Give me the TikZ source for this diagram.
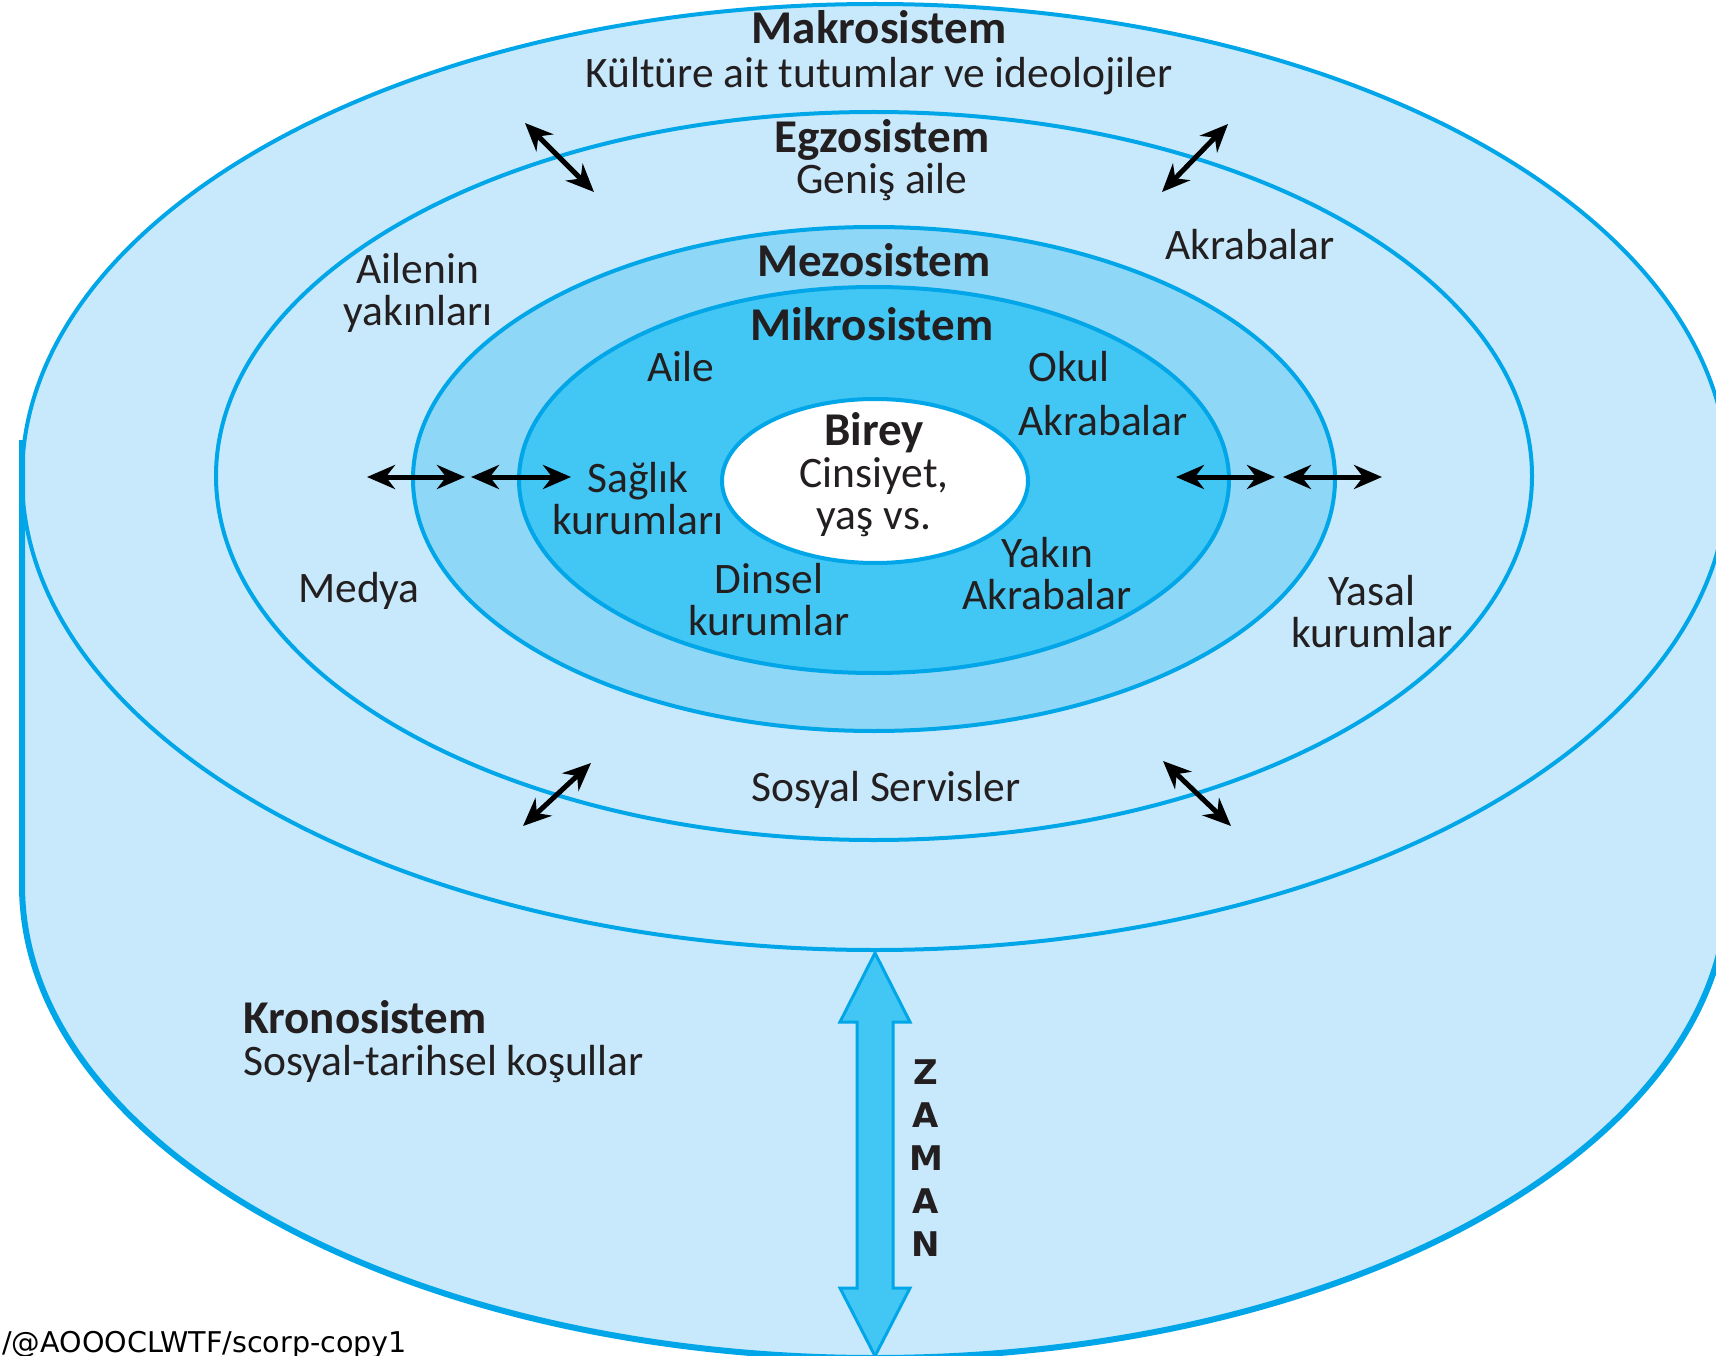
\documentclass[tikz,border=0pt]{standalone}
\usepackage{fontspec}
\setmainfont{Carlito}
\newfontfamily\wmfont{DejaVu Sans}
\usetikzlibrary{arrows.meta}
\definecolor{lightb}{RGB}{199,233,251}
\definecolor{mezob}{RGB}{143,215,246}
\definecolor{mikrob}{RGB}{66,199,244}
\definecolor{edgeb}{RGB}{0,166,232}
\definecolor{txt}{RGB}{35,31,32}
\newcommand{\ttlfont}{\bfseries\fontsize{47}{42}\selectfont}
\tikzset{
  edge/.style={draw=edgeb, line width=4pt},
  lbl/.style={text=txt, font=\fontsize{43.5}{42}\selectfont, align=center, inner sep=0pt},
  ttl/.style={text=txt, font=\ttlfont, align=center, inner sep=0pt},
  dbl/.style={{Stealth[length=28pt,width=24pt]}-{Stealth[length=28pt,width=24pt]}, line width=5pt, draw=black},
}
\begin{document}
\begin{tikzpicture}[x=1pt,y=-1pt]
\useasboundingbox (0,0) rectangle (1716,1356);
\clip (0,0) rectangle (1716,1356);
\fill[white] (0,0) rectangle (1716,1356);
% cylinder body
\fill[lightb] (875,477) ellipse[x radius=853, y radius=473];
\fill[lightb] (22,477) rectangle (1728,885);
\fill[lightb] (875,885) ellipse[x radius=853, y radius=473];
\draw[edge, line width=6pt] (22,440) -- (22,885) arc[start angle=180, end angle=0, x radius=853, y radius=473] -- (1728,477);
\draw[edge] (875,477) ellipse[x radius=853, y radius=473];
% rings
\draw[edge] (874,476) ellipse[x radius=658, y radius=364];
\filldraw[fill=mezob, edge] (874,479) ellipse[x radius=461, y radius=252];
\filldraw[fill=mikrob, edge] (874,480) ellipse[x radius=355, y radius=193];
\filldraw[fill=white, edge] (875,481) ellipse[x radius=153, y radius=82];
% ZAMAN arrow
\filldraw[fill=mikrob, draw=edgeb, line width=3pt, line join=miter]
  (875,953) -- (910,1022) -- (893,1022) -- (893,1288) -- (910,1288) -- (875,1356)
  -- (840,1288) -- (857,1288) -- (857,1022) -- (840,1022) -- cycle;
% labels
\node[lbl] (makro) at (879,53) {{\ttlfont Makrosistem}\\[2pt]Kültüre ait tutumlar ve ideolojiler};
\node[lbl] (egzo) at (882,160) {{\ttlfont Egzosistem}\\[-1.5pt]Geniş aile};
\node[lbl] (akr1) at (1250,245) {Akrabalar};
\node[lbl] (ailenin) at (418,293) {Ailenin\\yakınları};
\node[ttl] (mezo) at (874,260) {Mezosistem};
\node[ttl] (mikro) at (872,324) {Mikrosistem};
\node[lbl] (aile) at (681,367) {Aile};
\node[lbl] (okul) at (1069,367) {Okul};
\node[lbl] (akr2) at (1103,421) {Akrabalar};
\node[lbl] (birey) at (874,475) {{\ttlfont Birey}\\Cinsiyet,\\yaş vs.};
\node[lbl] (saglik) at (638,499) {Sağlık\\kurumları};
\node[lbl] (yakin) at (1047,574) {Yakın\\Akrabalar};
\node[lbl] (dinsel) at (769,600) {Dinsel\\kurumlar};
\node[lbl] (medya) at (359,591) {Medya};
\node[lbl] (yasal) at (1372,612) {Yasal\\kurumlar};
\node[lbl] (sosyal) at (886,790) {Sosyal Servisler};
\node[lbl, anchor=west, align=left] (krono) at (243,1042) {{\ttlfont Kronosistem}\\[0pt]Sosyal-tarihsel koşullar};
\node[text=txt, font=\bfseries\wmfont\fontsize{34}{43}\selectfont, align=center, inner sep=0pt] (zaman) at (926,1158) {Z\\A\\M\\A\\N};
\node[text=black, font=\wmfont\fontsize{28.6}{30}\selectfont, anchor=base west, inner sep=0pt] (wm) at (2,1352) {/@AOOOCLWTF/scorp-copy1};
% double arrows
\coordinate (ul1) at (525,123); \coordinate (ul2) at (594,192);
\coordinate (ur1) at (1228,124); \coordinate (ur2) at (1162,192);
\coordinate (ll1) at (523,826); \coordinate (ll2) at (591,763);
\coordinate (lr1) at (1163,761); \coordinate (lr2) at (1231,826);
\coordinate (hl1) at (367,477); \coordinate (hl2) at (465,477);
\coordinate (hl3) at (471,477); \coordinate (hl4) at (571,477);
\coordinate (hr1) at (1176,477); \coordinate (hr2) at (1275,477);
\coordinate (hr3) at (1283,477); \coordinate (hr4) at (1382,477);
\draw[dbl] (ul1) -- (ul2);
\draw[dbl] (ur1) -- (ur2);
\draw[dbl] (ll1) -- (ll2);
\draw[dbl] (lr1) -- (lr2);
\draw[dbl] (hl1) -- (hl2);
\draw[dbl] (hl3) -- (hl4);
\draw[dbl] (hr1) -- (hr2);
\draw[dbl] (hr3) -- (hr4);
\end{tikzpicture}
\end{document}
